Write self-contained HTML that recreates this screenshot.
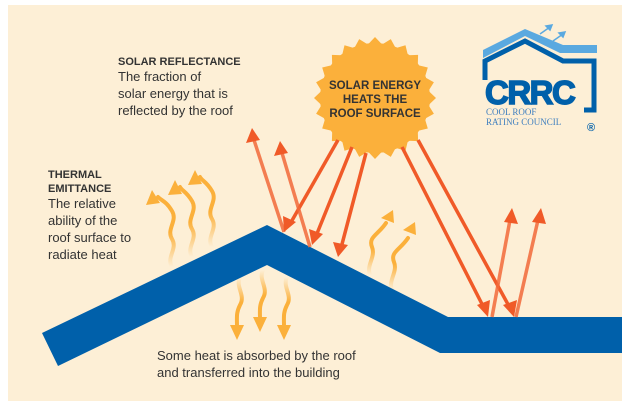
<!DOCTYPE html>
<html><head><meta charset="utf-8"><style>
body{margin:0;background:#fff;width:624px;height:404px;overflow:hidden;font-family:"Liberation Sans",sans-serif}
</style></head><body>
<svg width="624" height="404" viewBox="0 0 624 404" xmlns="http://www.w3.org/2000/svg">
<defs>
<linearGradient id="fu" x1="0" y1="1" x2="0" y2="0"><stop offset="0" stop-color="#fbb03b" stop-opacity="0"/><stop offset="0.5" stop-color="#fbb03b"/></linearGradient>
<linearGradient id="fd" x1="0" y1="0" x2="0" y2="1"><stop offset="0" stop-color="#fbb03b" stop-opacity="0"/><stop offset="0.5" stop-color="#fbb03b"/></linearGradient>
</defs>
<rect x="8" y="5" width="614" height="396" fill="#fdefd6"/>
<!-- sun -->
<g transform="translate(375,98)">
<circle r="55" fill="#fbb03b"/>
<polygon fill="#fbb03b" points="61,0 53.5,7.1 58.9,15.8 49.9,20.7 52.8,30.5 42.8,32.9 43.1,43.1 32.9,42.8 30.5,52.8 20.7,49.9 15.8,58.9 7.1,53.5 0,61 -7.1,53.5 -15.8,58.9 -20.7,49.9 -30.5,52.8 -32.9,42.8 -43.1,43.1 -42.8,32.9 -52.8,30.5 -49.9,20.7 -58.9,15.8 -53.5,7.1 -61,0 -53.5,-7.1 -58.9,-15.8 -49.9,-20.7 -52.8,-30.5 -42.8,-32.9 -43.1,-43.1 -32.9,-42.8 -30.5,-52.8 -20.7,-49.9 -15.8,-58.9 -7.1,-53.5 0,-61 7.1,-53.5 15.8,-58.9 20.7,-49.9 30.5,-52.8 32.9,-42.8 43.1,-43.1 42.8,-32.9 52.8,-30.5 49.9,-20.7 58.9,-15.8 53.5,-7.1"/>
<g font-weight="bold" font-size="11.5" fill="#333" text-anchor="middle">
<text x="0" y="-9">SOLAR ENERGY</text><text x="0" y="5">HEATS THE</text><text x="0" y="19">ROOF SURFACE</text></g>
</g>
<!-- wavy yellow arrows -->
<g fill="none" stroke-width="4" stroke-linecap="round">
<path d="M172,267 c-6,-10 6,-18 0,-28 c-6,-10 6,-18 0,-28 c-6,-10 -10,-10 -14,-14" stroke="url(#fu)"/>
<path d="M192,257 c-6,-10 6,-18 0,-28 c-6,-10 6,-18 0,-28 c-6,-10 -10,-10 -12,-14" stroke="url(#fu)"/>
<path d="M212,247 c-6,-10 6,-18 0,-28 c-6,-10 6,-18 0,-28 c-6,-10 -10,-10 -12,-14" stroke="url(#fu)"/>
<path d="M370,275 c-4,-10 6,-18 2,-28 c-4,-10 6,-12 14,-24" stroke="url(#fu)"/>
<path d="M392,290 c-4,-10 6,-18 2,-28 c-4,-10 6,-12 14,-24" stroke="url(#fu)"/>
<path d="M240,277 c-5,10 6,18 0,28 c-4,8 -3,12 -3,22" stroke="url(#fd)"/>
<path d="M263,270 c-5,10 6,18 0,28 c-4,8 -3,12 -3,22" stroke="url(#fd)"/>
<path d="M287,277 c-5,10 6,18 0,28 c-4,8 -3,12 -3,22" stroke="url(#fd)"/>
</g>
<g fill="#fbb03b">
<polygon points="152,190 146,205 160,203"/>
<polygon points="175,180 168,195 182,194"/>
<polygon points="195,170 188,185 202,184"/>
<polygon points="393,210 381,218 394,223"/>
<polygon points="415,222 403,230 416,235"/>
<polygon points="237,340 230,325 244,325"/>
<polygon points="260,332 253,317 267,317"/>
<polygon points="284,340 277,325 291,325"/>
</g>
<!-- roof -->
<polygon fill="#0060aa" points="42,333 267,225 448,317 622,317 622,353 440,353 267,265 58,366"/>
<!-- orange arrows -->
<g stroke="#f05a28" stroke-width="3.5" fill="none">
<line x1="338" y1="140" x2="290" y2="224"/>
<line x1="352" y1="147" x2="316" y2="236"/>
<line x1="366" y1="153" x2="341" y2="248"/>
<line x1="402" y1="147" x2="484" y2="308"/>
<line x1="418" y1="140" x2="510" y2="308"/>
</g>
<g stroke="#f26a3a" stroke-width="3.5" fill="none" opacity="0.85">
<line x1="284" y1="232" x2="254" y2="140"/>
<line x1="310" y1="247" x2="282" y2="153"/>
<line x1="492" y1="317" x2="510" y2="220"/>
<line x1="516" y1="317" x2="538" y2="220"/>
</g>
<g fill="#f05a28">
<polygon points="284,232 283,216 296,222"/>
<polygon points="312,245 309,229 323,234"/>
<polygon points="338,257 333,242 348,245"/>
<polygon points="488,317 477,305 490,300"/>
<polygon points="514,317 503,305 517,300"/>
<polygon points="252,128 246,143 260,140"/>
<polygon points="280,141 274,156 288,153"/>
<polygon points="512,208 504,222 518,224"/>
<polygon points="541,208 532,222 546,224"/>
</g>
<!-- texts -->
<g fill="#333">
<text x="118" y="65" font-weight="bold" font-size="11">SOLAR REFLECTANCE</text>
<text x="118" y="81" font-size="13">The fraction of</text>
<text x="118" y="98" font-size="13">solar energy that is</text>
<text x="118" y="115" font-size="13">reflected by the roof</text>
<text x="48" y="178" font-weight="bold" font-size="11">THERMAL</text>
<text x="48" y="192" font-weight="bold" font-size="11">EMITTANCE</text>
<text x="48" y="208" font-size="13">The relative</text>
<text x="48" y="225" font-size="13">ability of the</text>
<text x="48" y="242" font-size="13">roof surface to</text>
<text x="48" y="259" font-size="13">radiate heat</text>
<text x="157" y="360" font-size="13">Some heat is absorbed by the roof</text>
<text x="157" y="377" font-size="13">and transferred into the building</text>
</g>
<!-- logo -->
<polygon fill="#5aa9e0" points="483,50 525,29 563,45 597,45 597,53 560,53 525,36 483,58"/>
<g stroke="#5aa9e0" stroke-width="1.5" fill="#5aa9e0">
<line x1="540" y1="34" x2="550" y2="27"/><polygon points="552,25 546,26 550,30"/>
<line x1="553" y1="41" x2="563" y2="34"/><polygon points="565,32 559,33 563,37"/>
</g>
<path d="M485,80 V61 L525,41 L563,61 H594 V110 H584" fill="none" stroke="#0060aa" stroke-width="5"/>
<text x="485" y="104" font-weight="bold" font-size="33" fill="#0060aa" stroke="#0060aa" stroke-width="1.5" letter-spacing="-1.5">CRRC</text>
<text x="486" y="115" font-family="Liberation Serif,serif" font-size="9" fill="#3f7fbf">COOL ROOF</text>
<text x="486" y="125" font-family="Liberation Serif,serif" font-size="9" fill="#3f7fbf">RATING COUNCIL</text>
<text x="587" y="131" font-size="11" fill="#0060aa" font-weight="bold">®</text>
</svg>
</body></html>
